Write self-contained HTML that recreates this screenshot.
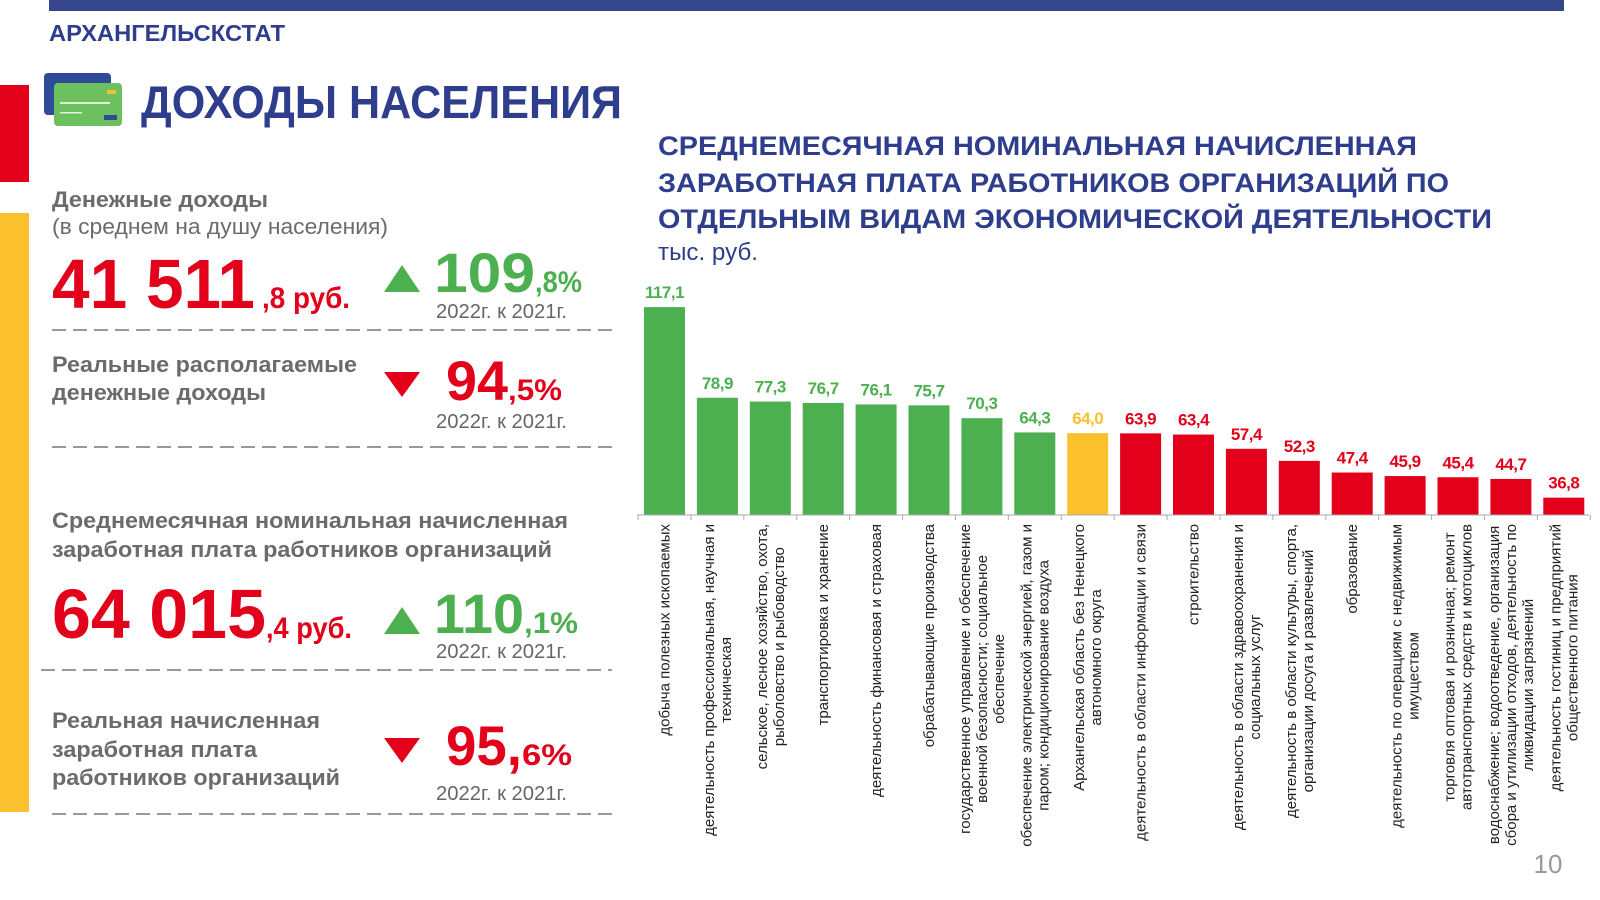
<!DOCTYPE html>
<html><head><meta charset="utf-8">
<style>
html,body{margin:0;padding:0;background:#fff;}
svg{display:block;font-family:"Liberation Sans",sans-serif;}
</style></head>
<body>
<svg id="page" width="1600" height="900" viewBox="0 0 1600 900" xmlns="http://www.w3.org/2000/svg">
  <rect x="49" y="0" width="1515" height="11" fill="#36468c"/>
  <text x="49" y="41" font-size="23" font-weight="bold" fill="#2e3d8c" textLength="236" lengthAdjust="spacingAndGlyphs">АРХАНГЕЛЬСКСТАТ</text>
  <rect x="0" y="85" width="29" height="97" fill="#e2001a"/>
  <rect x="0" y="213" width="29" height="599" fill="#fbc02d"/>
  <g>
    <rect x="44" y="73" width="67" height="42" rx="4" fill="#2f4a96"/>
    <rect x="54" y="83" width="68" height="43" rx="4" fill="#6cc05e"/>
    <rect x="107" y="90" width="9" height="4" fill="#f6c02c"/>
    <rect x="60" y="102" width="50" height="2" fill="#dff2da"/>
    <rect x="60" y="112" width="22" height="1.5" fill="#dff2da"/>
    <rect x="104" y="115" width="13" height="5" fill="#2f4a96"/>
  </g>
  <text x="141" y="118" font-size="46" font-weight="bold" fill="#2e3d8c" textLength="481" lengthAdjust="spacingAndGlyphs">ДОХОДЫ НАСЕЛЕНИЯ</text>

  <g>
    <text x="52" y="207" font-size="22" font-weight="bold" fill="#6b6b6b" textLength="216" lengthAdjust="spacingAndGlyphs">Денежные доходы</text>
    <text x="52" y="234" font-size="22" fill="#6b6b6b" textLength="336" lengthAdjust="spacingAndGlyphs">(в среднем на душу населения)</text>
    <text x="52" y="308" font-size="70" font-weight="bold" fill="#e2001a" textLength="203" lengthAdjust="spacingAndGlyphs">41 511</text>
    <text x="262" y="308" font-size="30" font-weight="bold" fill="#e2001a" textLength="88" lengthAdjust="spacingAndGlyphs">,8 руб.</text>
    <polygon points="384,292 420,292 402,265" fill="#4caf50"/>
    <text x="434" y="292" font-size="56" font-weight="bold" fill="#4caf50" textLength="101" lengthAdjust="spacingAndGlyphs">109</text>
    <text x="535" y="292" font-size="30" font-weight="bold" fill="#4caf50" textLength="47" lengthAdjust="spacingAndGlyphs">,8%</text>
    <text x="436" y="318" font-size="20" fill="#666" textLength="131" lengthAdjust="spacingAndGlyphs">2022г. к 2021г.</text>
    <line x1="52" y1="330" x2="612" y2="330" stroke="#777" stroke-width="1.5" stroke-dasharray="14 7"/>
  </g>
  <g>
    <text x="52" y="372" font-size="22" font-weight="bold" fill="#6b6b6b" textLength="305" lengthAdjust="spacingAndGlyphs">Реальные располагаемые</text>
    <text x="52" y="400" font-size="22" font-weight="bold" fill="#6b6b6b" textLength="214" lengthAdjust="spacingAndGlyphs">денежные доходы</text>
    <polygon points="384,372 420,372 402,397" fill="#e2001a"/>
    <text x="446" y="400" font-size="56" font-weight="bold" fill="#e2001a" textLength="62" lengthAdjust="spacingAndGlyphs">94</text>
    <text x="508" y="400" font-size="30" font-weight="bold" fill="#e2001a" textLength="54" lengthAdjust="spacingAndGlyphs">,5%</text>
    <text x="436" y="428" font-size="20" fill="#666" textLength="131" lengthAdjust="spacingAndGlyphs">2022г. к 2021г.</text>
    <line x1="52" y1="447" x2="612" y2="447" stroke="#777" stroke-width="1.5" stroke-dasharray="14 7"/>
  </g>
  <g>
    <text x="52" y="528" font-size="22" font-weight="bold" fill="#6b6b6b" textLength="516" lengthAdjust="spacingAndGlyphs">Среднемесячная номинальная начисленная</text>
    <text x="52" y="557" font-size="22" font-weight="bold" fill="#6b6b6b" textLength="500" lengthAdjust="spacingAndGlyphs">заработная плата работников организаций</text>
    <text x="52" y="638" font-size="70" font-weight="bold" fill="#e2001a" textLength="214" lengthAdjust="spacingAndGlyphs">64 015</text>
    <text x="266" y="638" font-size="30" font-weight="bold" fill="#e2001a" textLength="86" lengthAdjust="spacingAndGlyphs">,4 руб.</text>
    <polygon points="384,634 420,634 402,607" fill="#4caf50"/>
    <text x="434" y="633" font-size="56" font-weight="bold" fill="#4caf50" textLength="90" lengthAdjust="spacingAndGlyphs">110</text>
    <text x="524" y="633" font-size="30" font-weight="bold" fill="#4caf50" textLength="54" lengthAdjust="spacingAndGlyphs">,1%</text>
    <text x="436" y="658" font-size="20" fill="#666" textLength="131" lengthAdjust="spacingAndGlyphs">2022г. к 2021г.</text>
    <line x1="41" y1="670" x2="612" y2="670" stroke="#777" stroke-width="1.5" stroke-dasharray="14 7"/>
  </g>
  <g>
    <text x="52" y="728" font-size="22" font-weight="bold" fill="#6b6b6b" textLength="268" lengthAdjust="spacingAndGlyphs">Реальная начисленная</text>
    <text x="52" y="757" font-size="22" font-weight="bold" fill="#6b6b6b" textLength="205" lengthAdjust="spacingAndGlyphs">заработная плата</text>
    <text x="52" y="785" font-size="22" font-weight="bold" fill="#6b6b6b" textLength="288" lengthAdjust="spacingAndGlyphs">работников организаций</text>
    <polygon points="384,738 420,738 402,763" fill="#e2001a"/>
    <text x="446" y="765" font-size="56" font-weight="bold" fill="#e2001a" textLength="76" lengthAdjust="spacingAndGlyphs">95,</text>
    <text x="522" y="765" font-size="30" font-weight="bold" fill="#e2001a" textLength="50" lengthAdjust="spacingAndGlyphs">6%</text>
    <text x="436" y="800" font-size="20" fill="#666" textLength="131" lengthAdjust="spacingAndGlyphs">2022г. к 2021г.</text>
    <line x1="52" y1="814" x2="612" y2="814" stroke="#777" stroke-width="1.5" stroke-dasharray="14 7"/>
  </g>

  <g>
    <text x="658" y="155" font-size="27" font-weight="bold" fill="#2e3d8c" textLength="759" lengthAdjust="spacingAndGlyphs">СРЕДНЕМЕСЯЧНАЯ НОМИНАЛЬНАЯ НАЧИСЛЕННАЯ</text>
    <text x="658" y="192" font-size="27" font-weight="bold" fill="#2e3d8c" textLength="791" lengthAdjust="spacingAndGlyphs">ЗАРАБОТНАЯ ПЛАТА РАБОТНИКОВ ОРГАНИЗАЦИЙ ПО</text>
    <text x="658" y="228" font-size="27" font-weight="bold" fill="#2e3d8c" textLength="834" lengthAdjust="spacingAndGlyphs">ОТДЕЛЬНЫМ ВИДАМ ЭКОНОМИЧЕСКОЙ ДЕЯТЕЛЬНОСТИ</text>
  </g>
  <text x="658" y="260" font-size="24" fill="#2e3d8c" textLength="100" lengthAdjust="spacingAndGlyphs">тыс. руб.</text>
  <g id="chart"></g>
  <text x="1548" y="873" font-size="26" fill="#999" text-anchor="middle">10</text>
</svg>
<script>
const categories = [
  ["добыча полезных ископаемых"],
  ["деятельность профессиональная, научная и","техническая"],
  ["сельское, лесное хозяйство, охота,","рыболовство и рыбоводство"],
  ["транспортировка и хранение"],
  ["деятельность финансовая и страховая"],
  ["обрабатывающие производства"],
  ["государственное управление и обеспечение","военной безопасности; социальное","обеспечение"],
  ["обеспечение электрической энергией, газом и","паром; кондиционирование воздуха"],
  ["Архангельская область без Ненецкого","автономного округа"],
  ["деятельность в области информации и связи"],
  ["строительство"],
  ["деятельность в области здравоохранения и","социальных услуг"],
  ["деятельность в области культуры, спорта,","организации досуга и развлечений"],
  ["образование"],
  ["деятельность по операциям с недвижимым","имуществом"],
  ["торговля оптовая и розничная; ремонт","автотранспортных средств и мотоциклов"],
  ["водоснабжение; водоотведение, организация","сбора и утилизации отходов, деятельность по","ликвидации загрязнений"],
  ["деятельность гостиниц и предприятий","общественного питания"]
];
const values = [117.1, 78.9, 77.3, 76.7, 76.1, 75.7, 70.3, 64.3, 64.0, 63.9, 63.4, 57.4, 52.3, 47.4, 45.9, 45.4, 44.7, 36.8];
const valueLabels = ["117,1","78,9","77,3","76,7","76,1","75,7","70,3","64,3","64,0","63,9","63,4","57,4","52,3","47,4","45,9","45,4","44,7","36,8"];
const groups = ["above","above","above","above","above","above","above","above","region","below","below","below","below","below","below","below","below","below"];

const NS = "http://www.w3.org/2000/svg";
const chart = document.getElementById('chart');
const base = 515, yMin = 29.5, pxPerUnit = 2.373;
const x0 = 664.5, step = 52.9, barW = 41;
const colors = {above:"#4caf50", region:"#fbc02d", below:"#e2001a"};
function xScale(i){ return x0 + i*step; }
function yScale(v){ return base - (v - yMin)*pxPerUnit; }
function mk(tag, attrs){ const e=document.createElementNS(NS,tag); for(const k in attrs) e.setAttribute(k, attrs[k]); chart.appendChild(e); return e; }

values.forEach((v,i)=>{
  const cx = xScale(i), top = yScale(v), col = colors[groups[i]];
  const bar = mk('rect',{x:cx-barW/2, y:top, width:barW, height:base-top, fill:col});
  
  
  const lab = mk('text',{x:cx, y:top-9, 'font-size':17, 'font-weight':'bold', fill:col, 'text-anchor':'middle', 'letter-spacing':'-0.5'});
  lab.textContent = valueLabels[i];
  
  
});
const axis = mk('line',{x1:637, y1:base, x2:1589, y2:base, stroke:'#aaa', 'stroke-width':1});


for(let i=0;i<=values.length;i++){
  const tx = xScale(i) - step/2;
  const t = mk('line',{x1:tx, y1:base, x2:tx, y2:base+5, stroke:'#aaa', 'stroke-width':1});
  
  
}
categories.forEach((lines,i)=>{
  const cx = xScale(i);
  const g = mk('text',{'font-size':15, fill:'#222', 'text-anchor':'middle'});
  
  
  const n = lines.length, lh = 17;
  const tspans = lines.map((ln,j)=>{
    const ts = document.createElementNS(NS,'tspan');
    ts.setAttribute('x', 0);
    ts.setAttribute('y', (j - (n-1)/2)*lh + 5);
    ts.textContent = ln;
    g.appendChild(ts);
    return ts;
  });
  let maxLen = 0;
  tspans.forEach(ts=>{ maxLen = Math.max(maxLen, ts.getComputedTextLength()); });
  const cy = 524 + maxLen/2;
  g.setAttribute('transform', 'translate(' + cx + ',' + cy + ') rotate(-90)');
});
</script>
</body></html>
